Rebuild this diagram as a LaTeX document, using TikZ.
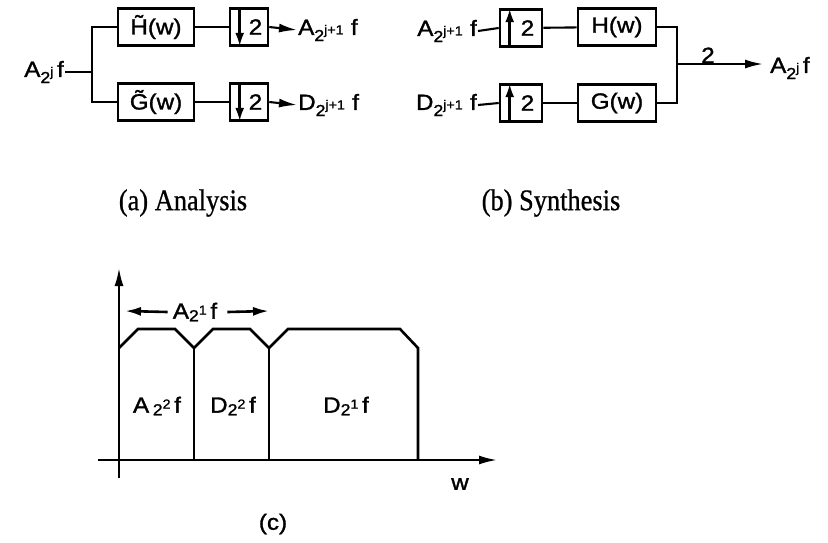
\documentclass[tikz,border=0pt]{standalone}
\usepackage{fontspec}
\setmainfont{Liberation Serif}
\setsansfont{Liberation Sans}
\newfontfamily\lsf[FakeBold=1.4,FakeStretch=1.1]{Liberation Sans}
\newfontfamily\capf[FakeBold=0.8]{Liberation Serif}
\usetikzlibrary{arrows.meta}
\newcommand\sbs[2]{\raisebox{-0.28em}{\fontsize{16}{16}\selectfont #1\raisebox{0.42em}{\fontsize{13}{13}\selectfont #2}}}
\newcommand\sbsup[2]{\raisebox{-0.12em}{\fontsize{16}{16}\selectfont #1\raisebox{0.42em}{\fontsize{13}{13}\selectfont #2}}}
\begin{document}
\begin{tikzpicture}[x=1pt,y=-1pt,
  lbl/.style={font=\lsf\fontsize{22}{26}\selectfont, inner sep=1pt},
  blk/.style={draw, line width=2.6pt, minimum height=37pt, inner sep=0pt, font=\lsf\fontsize{22}{26}\selectfont},
  wire/.style={line width=2.1pt},
  arr/.style={wire, -{Latex[length=18pt,width=9pt]}},
  sarr/.style={line width=2.8pt, -{Latex[length=14pt,width=9pt]}},
  harr/.style={line width=2.6pt, -{Latex[length=16pt,width=9pt]}},
  captxt/.style={font=\capf\fontsize{30}{32}\selectfont, inner sep=0pt},
  spec/.style={line width=2.6pt, line join=miter}
]
\useasboundingbox (0,0) rectangle (828,542);

% ---------- (a) Analysis ----------
\node[lbl, anchor=east] (ain) at (65,72) {A\sbs{2}{j}\,f};
\coordinate (split) at (92,72);
\node[blk, minimum width=76pt] (ht) at (156,27) {\~{H}(w)};
\node[blk, minimum width=76pt] (gt) at (156,102) {\~{G}(w)};
\node[blk, minimum width=38pt] (d1) at (249,27) {\hspace{13pt}2};
\node[blk, minimum width=38pt] (d2) at (249,102) {\hspace{13pt}2};
\draw[sarr] ([xshift=11pt]d1.north west) -- ([xshift=11pt]d1.south west);
\draw[sarr] ([xshift=11pt]d2.north west) -- ([xshift=11pt]d2.south west);
\node[lbl, anchor=west] (aout) at (297,30) {A\sbs{2}{j+1}\,\,f};
\node[lbl, anchor=west] (dout) at (297,105) {D\sbs{2}{j+1}\,\,f};
\draw[wire] (ain.east) -- (split);
\draw[wire] (split) |- (ht.west);
\draw[wire] (split) |- (gt.west);
\draw[wire] (ht) -- (d1);
\draw[wire] (gt) -- (d2);
\draw[arr] (d1.east) -- (aout.west);
\draw[arr] (d2.east) -- (dout.west);

% ---------- (b) Synthesis ----------
\node[lbl, anchor=east] (sa) at (478,31) {A\sbs{2}{j+1}\,\,f};
\node[lbl, anchor=east] (sd) at (478,105) {D\sbs{2}{j+1}\,\,f};
\node[blk, minimum width=42pt] (u1) at (521,28) {\hspace{13pt}2};
\node[blk, minimum width=42pt] (u2) at (521,103) {\hspace{13pt}2};
\draw[sarr] ([xshift=11pt]u1.south west) -- ([xshift=11pt]u1.north west);
\draw[sarr] ([xshift=11pt]u2.south west) -- ([xshift=11pt]u2.north west);
\node[blk, minimum width=78pt] (h) at (617,27) {H(w)};
\node[blk, minimum width=78pt] (g) at (617,103) {G(w)};
\coordinate (join) at (677,64);
\node[lbl, anchor=west] (sout) at (769,68) {A\sbs{2}{j}\,f};
\draw[wire] (sa.east) -- (u1.west);
\draw[wire] (sd.east) -- (u2.west);
\draw[wire] (u1) -- (h);
\draw[wire] (u2) -- (g);
\draw[wire] (h.east) -| (join);
\draw[wire] (g.east) -| (join);
\coordinate (tip) at (763,64);
\draw[arr] (join) -- node[lbl, above, pos=0.36, yshift=-1pt] (two) {2} (tip);

% captions
\node[captxt] (capa) at (183,203) {\scalebox{0.88}[1]{(a) Analysis}};
\node[captxt] (capb) at (551,203) {\scalebox{0.88}[1]{(b) Synthesis}};

% ---------- (c) spectrum ----------
\draw[arr] (119,478) -- (119,268);
\draw[arr] (98,460) -- (497,460);
\draw[spec] (119,348) -- (138,329) -- (175,329) -- (194,348) -- (213,329) -- (250,329) -- (269,348) -- (288,329) -- (400,329) -- (418,348) -- (418,460);
\draw[wire] (194,348) -- (194,460);
\draw[wire] (269,348) -- (269,460);
\node[lbl] (a21) at (195,312) {A\sbsup{2}{1}\,f};
\coordinate (la) at (125,311);
\coordinate (ra) at (269,311);
\draw[harr] ([xshift=-4pt]a21.west) -- (la);
\draw[harr] ([xshift=9pt]a21.east) -- (ra);
\node[lbl] (a22) at (157,406) {A\,\sbsup{2}{2}\,f};
\node[lbl] (d22) at (233,406) {D\sbsup{2}{2}\,f};
\node[lbl] (d21) at (346,406) {D\sbsup{2}{1}\,f};
\node[lbl] (w) at (460,484) {w};
\node[lbl] (c) at (273,524) {(c)};
\end{tikzpicture}
\end{document}
